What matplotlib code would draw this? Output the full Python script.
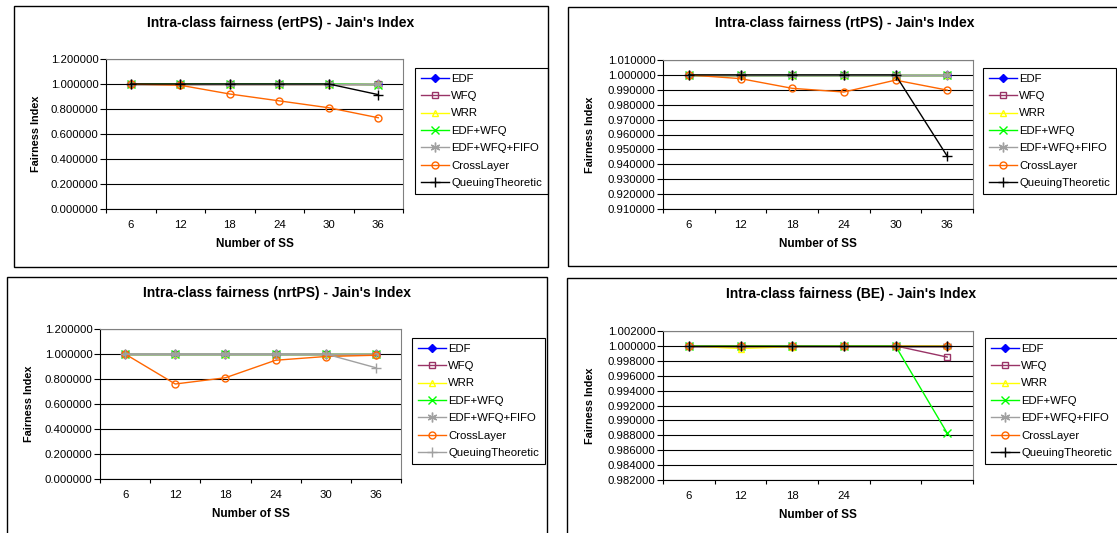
import numpy as np
import matplotlib.pyplot as plt
from matplotlib.patches import Rectangle

plt.rcParams['font.family'] = ['Liberation Sans', 'DejaVu Sans']

W, H = 1117, 533

ss = ['6', '12', '18', '24', '30', '36']
ss_be = ['6', '12', '18', '24', '', '']
names = ['EDF', 'WFQ', 'WRR', 'EDF+WFQ', 'EDF+WFQ+FIFO', 'CrossLayer', 'QueuingTheoretic']

ones = [1.0, 1.0, 1.0, 1.0, 1.0, 1.0]

# ertPS
ert_edf = ones
ert_wfq = ones
ert_wrr = ones
ert_edfwfq = [1.0, 1.0, 1.0, 1.0, 1.0, 0.995]
ert_fifo = ones
ert_cross = [1.0, 0.99, 0.92, 0.865, 0.81, 0.73]
ert_qt = [1.0, 1.0, 1.0, 1.0, 1.0, 0.915]

# rtPS
rt_edf = ones
rt_wfq = ones
rt_wrr = ones
rt_edfwfq = ones
rt_fifo = ones
rt_cross = [1.0, 0.9975, 0.991, 0.9885, 0.9965, 0.9898]
rt_qt = [1.0, 1.0, 1.0, 1.0, 1.0, 0.9455]

# nrtPS
nrt_edf = ones
nrt_wfq = ones
nrt_wrr = ones
nrt_edfwfq = ones
nrt_fifo = ones
nrt_cross = [1.0, 0.76, 0.81, 0.95, 0.98, 0.99]
nrt_qt = [1.0, 1.0, 1.0, 1.0, 1.0, 0.89]

# BE
be_edf = ones
be_wfq = [1.0, 1.0, 1.0, 1.0, 1.0, 0.9985]
be_wrr = [1.0, 0.99965, 0.9999, 1.0, 1.0, 1.0]
be_edfwfq = [1.0, 1.0, 1.0, 1.0, 1.0, 0.9883]
be_fifo = ones
be_cross = ones
be_qt = ones

styles = [
    dict(color='#0000FF', marker='D', mfc='#0000FF', ms=4),
    dict(color='#993366', marker='s', mfc='none', ms=5),
    dict(color='#FFFF00', marker='^', mfc='none', ms=5),
    dict(color='#00FF00', marker='x', ms=6),
    dict(color='#A0A0A0', marker=(6, 2, 0), ms=7),
    dict(color='#FF6600', marker='o', mfc='none', ms=5),
    dict(color='#000000', marker='+', ms=7),
]


def fx(x):
    return x / W


def fy(y):
    return 1 - y / H


def panel(box, axbox, title, tcx, tcy, xlabcy, ylabx, series, ymin, ymax, step,
          labels, legpos, qt_color=None):
    x0, y0, x1, y1 = box
    fig.add_artist(Rectangle((fx(x0), fy(y1)), fx(x1 - x0), (y1 - y0) / H,
                             transform=fig.transFigure, fill=False, ec='black', lw=1))
    l, t, r, b = axbox
    ax = fig.add_axes([fx(l), fy(b), fx(r - l), (b - t) / H])
    pos = np.arange(len(labels))
    for i, (nm, vals) in enumerate(zip(names, series)):
        st = dict(styles[i])
        if i == 6 and qt_color:
            st['color'] = qt_color
        ax.plot(pos, vals, label=nm, lw=1, **st)
    ax.set_xlim(-0.5, len(labels) - 0.5)
    ax.set_ylim(ymin, ymax)
    ax.set_yticks(np.arange(ymin, ymax + step / 2, step))
    ax.yaxis.set_major_formatter(plt.FormatStrFormatter('%.6f'))
    ax.set_xticks(np.arange(-0.5, len(labels), 1))
    ax.set_xticklabels([])
    ax.set_xticks(pos, minor=True)
    ax.set_xticklabels(labels, minor=True)
    ax.tick_params(axis='x', which='major', length=3, direction='out', width=0.8)
    ax.tick_params(axis='x', which='minor', length=0, pad=8, labelsize=8.2)
    ax.tick_params(axis='y', length=4.5, width=0.8, labelsize=8.2, pad=1)
    ax.yaxis.grid(True, color='black', lw=0.8)
    ax.set_axisbelow(True)
    ax.spines['top'].set_color('#808080')
    ax.spines['right'].set_color('#808080')
    ax.spines['top'].set_linewidth(0.8)
    ax.spines['right'].set_linewidth(0.8)
    fig.text(fx(tcx), fy(tcy), title, ha='center', va='center', fontsize=10, fontweight='bold')
    fig.text(fx((l + r) / 2), fy(xlabcy), 'Number of SS', ha='center', va='center',
             fontsize=8.5, fontweight='bold')
    fig.text(fx(ylabx), (fy(b) + fy(t)) / 2, 'Fairness Index', ha='center', va='center',
             rotation=90, fontsize=7.8, fontweight='bold')
    leg = ax.legend(loc='upper left', bbox_to_anchor=(fx(legpos[0]), fy(legpos[1])),
                    bbox_transform=fig.transFigure, borderaxespad=0, fancybox=False,
                    edgecolor='black', framealpha=1, fontsize=8.2, handlelength=2.5,
                    labelspacing=0.65, handletextpad=0.2, borderpad=0.5)
    leg.get_frame().set_linewidth(0.8)
    return ax


fig = plt.figure(figsize=(W / 100, H / 100), dpi=100)

panel((14, 6, 548, 267), (106, 59, 403, 209), "Intra-class fairness (ertPS) - Jain's Index",
      281, 23, 244, 36,
      [ert_edf, ert_wfq, ert_wrr, ert_edfwfq, ert_fifo, ert_cross, ert_qt],
      0.0, 1.2, 0.2, ss, (415, 68))

panel((568, 7, 1130, 266), (663, 60, 973, 209), "Intra-class fairness (rtPS) - Jain's Index",
      845, 23, 244, 590,
      [rt_edf, rt_wfq, rt_wrr, rt_edfwfq, rt_fifo, rt_cross, rt_qt],
      0.91, 1.01, 0.01, ss, (983, 68))

panel((7, 277, 547, 545), (100, 329, 401, 479), "Intra-class fairness (nrtPS) - Jain's Index",
      277, 293, 514, 29,
      [nrt_edf, nrt_wfq, nrt_wrr, nrt_edfwfq, nrt_fifo, nrt_cross, nrt_qt],
      0.0, 1.2, 0.2, ss, (412, 338), qt_color='#A0A0A0')

panel((567, 278, 1130, 545), (663, 331, 973, 480), "Intra-class fairness (BE) - Jain's Index",
      851, 294, 515, 590,
      [be_edf, be_wfq, be_wrr, be_edfwfq, be_fifo, be_cross, be_qt],
      0.982, 1.002, 0.002, ss_be, (985, 338))

fig.savefig('out.png', dpi=100)
